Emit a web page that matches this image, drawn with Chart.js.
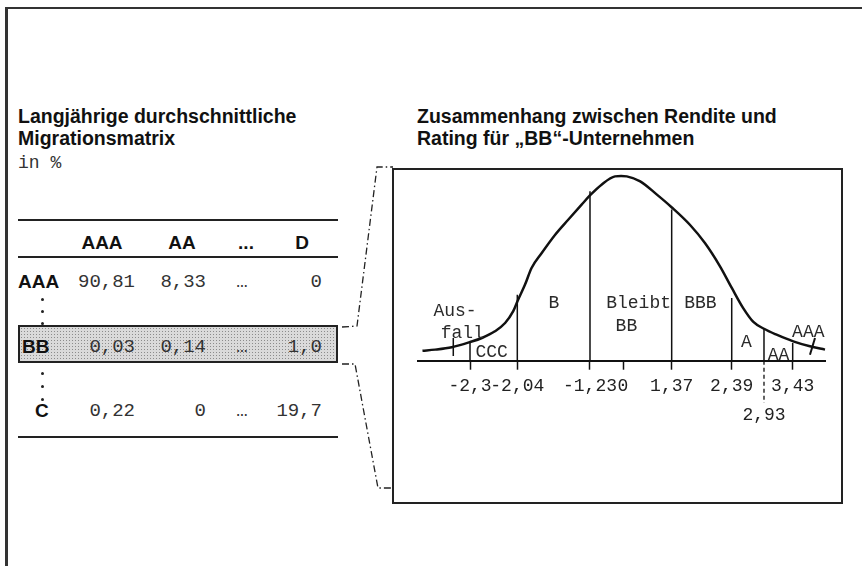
<!DOCTYPE html>
<html lang="de">
<head>
  <meta charset="UTF-8" />
  <title>Migrationsmatrix und Rating</title>
  <script src="https://cdn.jsdelivr.net/npm/chart.js"></script>
  <style>
    html, body { margin: 0; padding: 0; background: #fff; }
    body { width: 862px; height: 566px; position: relative; overflow: hidden; font-family: "Liberation Sans", Arial, sans-serif; color: #111; }
    .frame { position: absolute; left: 5px; top: 7px; width: 900px; height: 600px; border-left: 3px solid #333; border-top: 2px solid #333; }
    .title { position: absolute; font-weight: bold; font-size: 19.5px; line-height: 22px; white-space: nowrap; }
    .unit { position: absolute; left: 18px; top: 153px; font-family: "Liberation Mono", monospace; font-size: 18px; line-height: 20px; color: #333; }
    .rule { position: absolute; left: 18px; width: 320px; height: 0; border-top: 2px solid #222; }
    .bb-box {
      position: absolute; left: 18px; top: 325px; width: 320px; height: 38px; box-sizing: border-box;
      border: 2px solid #222;
      background: #dadada radial-gradient(#8c8c8c 0.7px, transparent 1px) 0 0 / 3px 3px;
    }
    .cell { position: absolute; white-space: nowrap; line-height: 1; }
    .head { font-weight: bold; font-size: 19px; color: #111; }
    .val { font-family: "Liberation Mono", monospace; font-size: 19px; color: #333; }
    .dot { position: absolute; width: 3px; height: 3px; border-radius: 50%; background: #222; }
    .box { position: absolute; left: 392px; top: 168px; width: 451px; height: 336px; box-sizing: border-box; border: 2px solid #222; }
    .chart-wrap { position: absolute; left: 393px; top: 169px; width: 449px; height: 334px; }
    svg { position: absolute; left: 0; top: 0; }
  </style>
</head>
<body>
  <div class="frame"></div>

  <div class="title" style="left:18px; top:105px;">Langjährige durchschnittliche<br>Migrationsmatrix</div>
  <div class="unit">in %</div>
  <div class="title" style="left:417px; top:105px;">Zusammenhang zwischen Rendite und<br>Rating für „BB“-Unternehmen</div>

  <div id="matrix"></div>

  <svg width="862" height="566">
    <polyline points="342,327 357,326 377,167 393,167" fill="none" stroke="#222" stroke-width="1.3" stroke-dasharray="7 3 1.5 3" />
    <polyline points="342,364 355,364 378,488 391,488" fill="none" stroke="#222" stroke-width="1.3" stroke-dasharray="7 3 1.5 3" />
  </svg>

  <div class="box"></div>
  <div class="chart-wrap"><canvas id="curve"></canvas></div>

  <script>
    // Migrationsmatrix (Ausschnitt)
    const matrixCols = ['AAA', 'AA', '...', 'D'];
    const matrixRows = ['AAA', 'BB', 'C'];
    const matrixValues = [
      ['90,81', '8,33', '…', '0'],
      ['0,03', '0,14', '…', '1,0'],
      ['0,22', '0', '…', '19,7']
    ];

    // Renditeverteilung (schematisch, 0..100 in beiden Richtungen)
    const curveX = [1.1, 4.2, 8.3, 12.8, 15.7, 18.9, 21.4, 23.4, 24.6, 26.3, 27.9, 30.4, 33.7, 36.9, 40.2, 42.3, 45.1, 48.4, 49.9,
                    51.3, 54.6, 58.7, 62.3, 66.8, 70.5, 74.2, 77.1, 79.9, 82.4, 85.0, 88.1, 92.2, 96.3, 100];
    const curveY = [5.4, 6.0, 7.3, 10.1, 12.3, 15.9, 20.4, 26.8, 33.0, 41.2, 50.2, 58.3, 68.2, 76.3, 84.5, 89.6, 95.3, 99.8, 100,
                    99.8, 97.1, 89.9, 83.1, 73.6, 63.7, 51.1, 39.4, 28.5, 21.0, 17.3, 14.1, 10.5, 7.8, 6.0];

    // Schwellenwerte
    const tickPos = [12.78, 24.4, 42.26, 50.37, 62.33, 77.08, 85.01, 92.06];
    const tickLabels = ['-2,3', '-2,04', '-1,23', '0', '1,37', '2,39', ['', '2,93'], '3,43'];
    const boundaryPos = [12.78, 24.4, 42.26, 62.33, 77.08, 85.01, 92.06];
    const boundaryTop = [10.7, 35.7, 91.7, 81.8, 34.0, 17.7, 9.6];
    const dashedTick = 85.01;
    const dashedDepth = -22.9;

    // Ratingzonen
    const zoneNames = ['Aus-', 'fall', 'CCC', 'B', 'Bleibt', 'BB', 'BBB', 'A', 'AA', 'AAA'];
    const zoneX = [9.1, 10.9, 18.1, 33.4, 54.2, 51.2, 69.4, 80.7, 88.6, 95.9];
    const zoneY = [26.9, 15.0, 4.7, 31.2, 31.2, 18.8, 31.2, 10.1, 3.1, 15.5];

    // kleine Markierungen in den Randbereichen
    const markAusfall = [[8.67, 12.3], [8.67, 2.5]];
    const markAAA = [[97.54, 12.3], [96.31, 3.2]];

    // ---------- Tabelle ----------
    const matrix = document.getElementById('matrix');

    function addEl(cls, style) {
      const el = document.createElement('div');
      el.className = cls;
      Object.assign(el.style, style);
      matrix.appendChild(el);
      return el;
    }

    // baseline-Faktor bei line-height 1
    const baseSans = 0.8465, baseMono = 0.7665;

    function placeText(text, x, baseline, align, cls, size, factor) {
      const el = addEl('cell ' + cls, {});
      el.textContent = text;
      el.style.top = (baseline - size * factor) + 'px';
      if (align === 'right') el.style.right = (862 - x) + 'px';
      else if (align === 'center') { el.style.left = x + 'px'; el.style.transform = 'translateX(-50%)'; }
      else el.style.left = x + 'px';
    }

    addEl('rule', { top: '219px' });
    addEl('rule', { top: '256px' });
    addEl('rule', { top: '436px' });
    addEl('bb-box', {});

    const headCenters = [102, 182, 246, 302];
    matrixCols.forEach((c, i) => placeText(c, headCenters[i], 249, 'center', 'head', 19, baseSans));

    const rowBase = [288, 353, 417];
    const rowLabelX = [18, 22, 35];
    const colX = [135, 206, 242, 322];
    const colAlign = ['right', 'right', 'center', 'right'];
    matrixRows.forEach((r, ri) => {
      placeText(r, rowLabelX[ri], rowBase[ri], 'left', 'head', 19, baseSans);
      matrixValues[ri].forEach((v, ci) => placeText(v, colX[ci], rowBase[ri], colAlign[ci], 'val', 19, baseMono));
    });

    [299, 311, 323, 373, 386, 399].forEach(y => addEl('dot', { left: '41px', top: (y - 1.5) + 'px' }));

    // ---------- Kurve ----------
    const lineStyle = { borderColor: '#111', borderWidth: 1.5, pointRadius: 0, tension: 0, clip: false, fill: false };

    const datasets = [{
      ...lineStyle,
      borderWidth: 2.5,
      cubicInterpolationMode: 'monotone',
      data: curveX.map((x, i) => ({ x, y: curveY[i] }))
    }];
    boundaryPos.forEach((p, i) => {
      datasets.push({ ...lineStyle, data: [{ x: p, y: boundaryTop[i] }, { x: p, y: 0 }] });
    });
    datasets.push({ ...lineStyle, borderWidth: 1.3, borderDash: [4, 3], data: [{ x: dashedTick, y: 0 }, { x: dashedTick, y: dashedDepth }] });
    datasets.push({ ...lineStyle, data: markAusfall.map(p => ({ x: p[0], y: p[1] })) });
    datasets.push({ ...lineStyle, borderWidth: 2, data: markAAA.map(p => ({ x: p[0], y: p[1] })) });

    const zoneLabelPlugin = {
      id: 'zoneLabels',
      afterDatasetsDraw(chart) {
        const { ctx, scales } = chart;
        ctx.save();
        ctx.font = '18px "Liberation Mono", monospace';
        ctx.fillStyle = '#2a2a2a';
        ctx.textAlign = 'center';
        ctx.textBaseline = 'middle';
        zoneNames.forEach((t, i) => {
          ctx.fillText(t, scales.x.getPixelForValue(zoneX[i]), scales.y.getPixelForValue(zoneY[i]));
        });
        ctx.restore();
      }
    };

    new Chart(document.getElementById('curve'), {
      type: 'line',
      data: { datasets },
      options: {
        responsive: true,
        maintainAspectRatio: false,
        animation: false,
        events: [],
        layout: { padding: { left: 25, right: 17, top: 7, bottom: 0 } },
        plugins: { legend: { display: false }, tooltip: { enabled: false }, title: { display: false } },
        scales: {
          x: {
            type: 'linear',
            min: 0,
            max: 100,
            afterBuildTicks: axis => { axis.ticks = tickPos.map(v => ({ value: v })); },
            afterFit: axis => { axis.height = 142.3; },
            ticks: {
              autoSkip: false,
              maxRotation: 0,
              minRotation: 0,
              padding: 2.6,
              color: '#222',
              font: { family: 'Liberation Mono', size: 18, lineHeight: 1.6 },
              callback: (value, index) => tickLabels[index]
            },
            grid: {
              display: true,
              drawOnChartArea: false,
              drawTicks: true,
              tickLength: 9,
              tickWidth: 1.5,
              tickColor: ctx => (ctx.tick && ctx.tick.value === dashedTick) ? 'rgba(0,0,0,0)' : '#111'
            },
            border: { display: true, color: '#111', width: 2 }
          },
          y: { type: 'linear', display: false, min: 0, max: 100 }
        }
      },
      plugins: [zoneLabelPlugin]
    });
  </script>
</body>
</html>
